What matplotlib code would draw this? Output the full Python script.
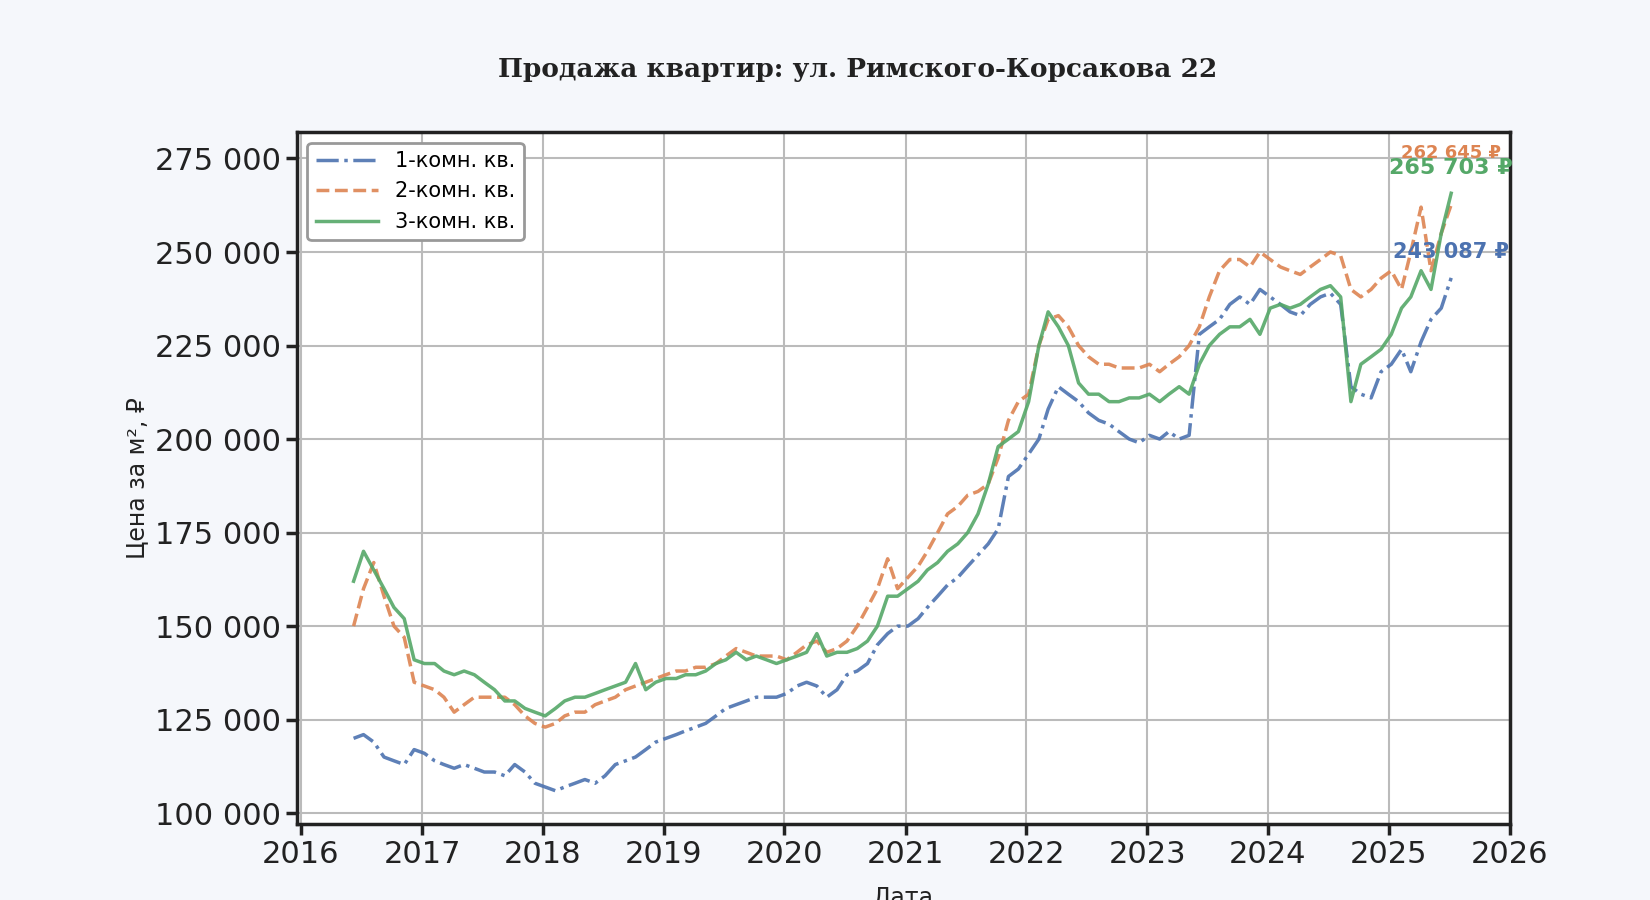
import matplotlib
matplotlib.use("Agg")
import matplotlib.pyplot as plt
import matplotlib.ticker as mticker
import pandas as pd

dates = pd.date_range("2016-06-01", periods=110, freq="MS") + pd.Timedelta(days=7)

one_room = [120,121,119,115,114,113,117,
 116,114,113,112,113,112,111,111,110,113,111,108,
 107,106,107,108,109,108,110,113,114,115,117,119,
 120,121,122,123,124,126,128,129,130,131,131,131,
 132,134,135,134,131,133,137,138,140,145,148,150,
 150,152,155,158,161,163,166,169,172,176,190,192,
 196,200,208,214,212,210,207,205,204,202,200,199,
 201,200,202,200,201,228,230,232,236,238,236,240,
 238,236,234,233,236,238,239,236,214,212,211,218,
 220,224,218,226,232,235,243.087]
two_room = [150,160,167,158,150,147,135,
 134,133,131,127,129,131,131,131,131,129,126,124,
 123,124,126,127,127,129,130,131,133,134,135,136,
 137,138,138,139,139,140,142,144,143,142,142,142,
 141,143,145,146,143,144,146,150,155,160,168,160,
 163,166,170,175,180,182,185,186,188,195,205,210,
 212,225,232,233,230,225,222,220,220,219,219,219,
 220,218,220,222,225,230,238,245,248,248,246,250,
 248,246,245,244,246,248,250,249,240,238,240,243,
 245,240,250,262,245,255,262.645]
three_room = [162,170,165,160,155,152,141,
 140,140,138,137,138,137,135,133,130,130,128,127,
 126,128,130,131,131,132,133,134,135,140,133,135,
 136,136,137,137,138,140,141,143,141,142,141,140,
 141,142,143,148,142,143,143,144,146,150,158,158,
 160,162,165,167,170,172,175,180,188,198,200,202,
 210,225,234,230,225,215,212,212,210,210,211,211,
 212,210,212,214,212,220,225,228,230,230,232,228,
 235,236,235,236,238,240,241,238,210,220,222,224,
 228,235,238,245,240,255,265.703]
labels = ["1-комн. кв.", "2-комн. кв.", "3-комн. кв."]
series = [one_room, two_room, three_room]
colors = ["#4c72b0", "#dd8452", "#55a868"]
styles = ["-.", "--", "-"]

fig = plt.figure(figsize=(16.5, 9), dpi=100, facecolor="#f5f7fb")
ax = fig.add_axes([0.180, 0.084, 0.735, 0.769])
ax.set_facecolor("white")
for s, lab, c, ls in zip(series, labels, colors, styles):
    ax.plot(dates, [v * 1000 for v in s], ls, color=c, lw=2.5, label=lab, alpha=0.9)

sizes = [15, 13, 16]
ytext = [250000, 276500, 272500]
for i in range(3):
    v = series[i][-1] * 1000
    ax.annotate(f"{v:,.0f} ₽".replace(",", " "), xy=(dates[-1], v),
                xytext=(dates[-1], ytext[i]), textcoords="data",
                ha="center", va="center", color=colors[i],
                fontsize=sizes[i], fontweight="bold")

ax.set_xlim(pd.Timestamp("2015-12-20"), pd.Timestamp("2026-01-01"))
ax.set_ylim(97000, 282000)
ax.xaxis.set_major_locator(matplotlib.dates.YearLocator())
ax.xaxis.set_major_formatter(matplotlib.dates.DateFormatter("%Y"))
ax.set_yticks(range(100000, 275001, 25000))
ax.yaxis.set_major_formatter(mticker.FuncFormatter(lambda v, p: f"{v:,.0f}".replace(",", " ")))
ax.tick_params(labelsize=22, length=8, width=2.5, colors="#222222")
ax.grid(True, color="#bbbbbb", lw=1.5)
for sp in ax.spines.values():
    sp.set_linewidth(2.5)
    sp.set_color("#222222")
ax.set_ylabel("Цена за м², ₽", fontsize=17, color="#222222")
ax.set_xlabel("Дата", fontsize=17, color="#222222", labelpad=12)
leg = ax.legend(loc="upper left", fontsize=15, frameon=True, edgecolor="#999999",
                framealpha=1, handlelength=3)
leg.get_frame().set_linewidth(2)
fig.text(0.52, 0.915, "Продажа квартир: ул. Римского-Корсакова 22", ha="center",
         fontsize=19, fontweight="bold", family="DejaVu Serif", color="#222222")
fig.savefig("out.png", dpi=100, facecolor=fig.get_facecolor())
